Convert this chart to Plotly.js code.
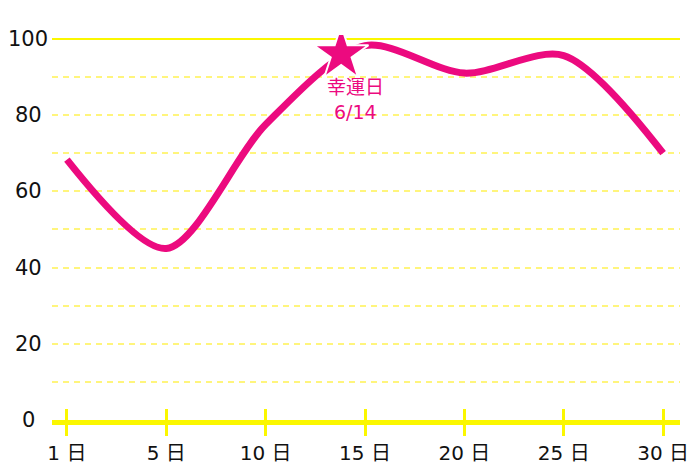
<!DOCTYPE html>
<html>
<head>
<meta charset="utf-8">
<script src="https://cdn.plot.ly/plotly-3.0.1.min.js"></script>
<style>html,body{margin:0;padding:0;background:#fff;}#chart{width:700px;height:467px;}</style>
</head>
<body>
<div id="chart"></div>
<script>
// data
const dayX = [0, 5, 10, 15, 20, 25, 30];
const values = [68.3, 45, 77.5, 98.2, 91, 95.6, 70];
const tickVals = [0, 5, 10, 15, 20, 25, 30];
const tickText = ["1 日", "5 日", "10 日", "15 日", "20 日", "25 日", "30 日"];
const yTickVals = [0, 20, 40, 60, 80, 100];
const yTickText = ["0", "20", "40", "60", "80", "100"];
const starX = [13.8];
const starY = [96];
const starLabelLines = ["幸運日", "6/14"];

const pink = '#ec0a7f';
const yellow = '#fbf700';
const font = '"DejaVu Sans", "Noto Sans CJK JP", sans-serif';

const traces = [
  {x: dayX, y: values, type: 'scatter', mode: 'lines',
   line: {color: pink, width: 7, shape: 'spline', smoothing: 0.85},
   hoverinfo: 'skip'},
  {x: starX, y: starY, type: 'scatter', mode: 'markers', xaxis: 'x2', yaxis: 'y2',
   marker: {symbol: 'star', size: 41, color: pink, line: {color: '#ffffff', width: 2}},
   hoverinfo: 'skip'}
];

const annotations = yTickVals.map((v, i) => ({
  xref: 'paper', yref: 'y', x: -0.038, y: v, text: yTickText[i],
  showarrow: false, xanchor: 'center', yanchor: 'middle',
  font: {family: font, size: 21, color: '#111'}
}));
starLabelLines.forEach((t, i) => annotations.push({
  xref: 'x', yref: 'y', x: starX[0], y: starY[0], text: t,
  showarrow: false, xanchor: 'center', yanchor: 'middle',
  xshift: 14, yshift: -33 - 25 * i,
  font: {family: font, size: 19, color: pink}
}));

const xr = [-0.75, 30.85];
const yr = [0, 101];
const layout = {
  width: 700, height: 467,
  margin: {l: 52, r: 20, t: 35, b: 47},
  paper_bgcolor: '#fff', plot_bgcolor: '#fff',
  showlegend: false,
  font: {family: font, size: 21, color: '#111'},
  xaxis: {range: xr, tickvals: tickVals, ticktext: tickText,
    showline: true, linecolor: yellow, linewidth: 5,
    ticks: 'outside', ticklen: 11, tickwidth: 3, tickcolor: yellow,
    showgrid: false, zeroline: false, fixedrange: true,
    tickfont: {family: font, size: 20, color: '#111'}},
  xaxis2: {range: xr, overlaying: 'x', anchor: 'y2', side: 'bottom',
    tickvals: tickVals, ticks: 'inside', ticklen: 11, tickwidth: 3, tickcolor: yellow,
    showticklabels: false, showgrid: false, zeroline: false, showline: false},
  yaxis: {range: yr, dtick: 10, tick0: 0, showticklabels: false,
    showgrid: true, gridcolor: '#fff57c', gridwidth: 2, griddash: '6px,5px',
    zeroline: false, showline: false, fixedrange: true},
  yaxis2: {range: yr, overlaying: 'y', anchor: 'x2', side: 'left',
    tickvals: [100], showticklabels: false, ticks: '',
    showgrid: true, gridcolor: yellow, gridwidth: 2,
    zeroline: false, showline: false},
  annotations: annotations
};

Plotly.newPlot('chart', traces, layout, {staticPlot: true, displayModeBar: false});
</script>
</body>
</html>
